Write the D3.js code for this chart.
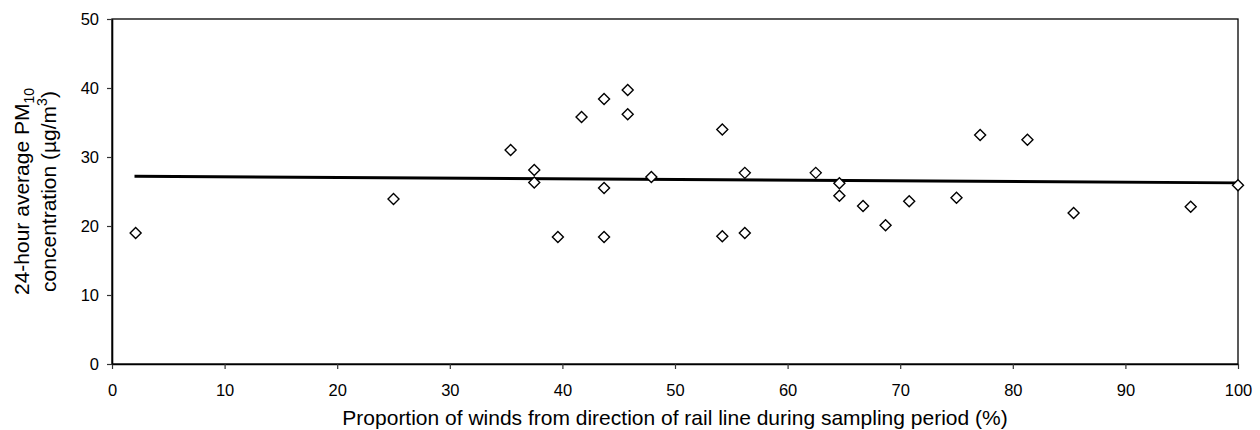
<!DOCTYPE html>
<html>
<head>
<meta charset="utf-8">
<script src="https://cdn.jsdelivr.net/npm/d3@7"></script>
<style>
  body { margin: 0; background: #fff; }
  svg { display: block; font-family: "Liberation Sans", Arial, sans-serif; }
</style>
</head>
<body>
<script>
// sampled wind proportion (%) and measured PM10 (ug/m3)
const windPct = [2.1, 25.0, 35.4, 37.5, 37.5, 39.6, 41.7, 43.7, 43.7, 43.7, 45.8, 45.8, 47.9,
  54.2, 54.2, 56.2, 56.2, 62.5, 64.6, 64.6, 66.7, 68.7, 70.8, 75.0, 77.1, 81.3, 85.4, 95.8, 100];
const pm10 = [19.0, 23.9, 31.0, 28.1, 26.3, 18.4, 35.8, 38.4, 25.5, 18.4, 39.7, 36.2, 27.1,
  34.0, 18.5, 27.7, 19.0, 27.7, 26.2, 24.4, 22.9, 20.1, 23.6, 24.1, 33.2, 32.5, 21.9, 22.8, 25.9];

// linear trend line end points
const trendX = [2.0, 100];
const trendY = [27.2, 26.25];

const xTicks = [0, 10, 20, 30, 40, 50, 60, 70, 80, 90, 100];
const yTicks = [0, 10, 20, 30, 40, 50];

let W = 1260, H = 430;
let margin = { top: 19, right: 22, bottom: 66, left: 112 },
  width = W - margin.left - margin.right,
  height = H - margin.top - margin.bottom;

let svg = d3.select("body").append("svg")
  .attr("width", W)
  .attr("height", H);

let g = svg.append("g")
  .attr("transform", "translate(" + margin.left + "," + margin.top + ")");

let x = d3.scaleLinear().domain([0, 100]).range([0, width]);
let y = d3.scaleLinear().domain([0, 50]).range([height, 0]);

// plot frame
g.append("rect")
  .attr("width", width)
  .attr("height", height)
  .attr("fill", "none")
  .attr("stroke", "#000")
  .attr("stroke-width", 1.3);

let xAxis = g.append("g")
  .attr("transform", "translate(0," + height + ")")
  .call(d3.axisBottom(x).tickValues(xTicks).tickSize(5).tickPadding(15).tickSizeOuter(0));
let yAxis = g.append("g")
  .call(d3.axisLeft(y).tickValues(yTicks).tickSize(5).tickPadding(8).tickSizeOuter(0));

[xAxis, yAxis].forEach(a => {
  a.select(".domain").attr("stroke", "#000").attr("stroke-width", 1.6);
  a.selectAll(".tick line").attr("stroke", "#333").attr("stroke-width", 1.2);
  a.selectAll(".tick text")
    .attr("fill", "#000")
    .style("font-size", "16.5px")
    .style("font-family", "Liberation Sans, Arial, sans-serif");
});

// trend line
let line = d3.line()
  .x(d => x(d[0]))
  .y(d => y(d[1]));
g.append("path")
  .datum(trendX.map((v, i) => [v, trendY[i]]))
  .attr("d", line)
  .attr("fill", "none")
  .attr("stroke", "#000")
  .attr("stroke-width", 3);

// diamond markers
let r = 5.5;
g.selectAll(".pt")
  .data(windPct.map((v, i) => [v, pm10[i]]))
  .enter().append("path")
  .attr("class", "pt")
  .attr("transform", d => "translate(" + x(d[0]) + "," + y(d[1]) + ")")
  .attr("d", "M0," + (-r) + "L" + r + ",0L0," + r + "L" + (-r) + ",0Z")
  .attr("fill", "#fff")
  .attr("stroke", "#000")
  .attr("stroke-width", 1.4);

// axis titles
svg.append("text")
  .attr("x", margin.left + width / 2)
  .attr("y", 425)
  .attr("text-anchor", "middle")
  .style("font-size", "21px")
  .text("Proportion of winds from direction of rail line during sampling period (%)");

let cy = margin.top + height / 2;
let t1 = svg.append("text")
  .attr("transform", "translate(29," + cy + ") rotate(-90)")
  .attr("text-anchor", "middle")
  .style("font-size", "21px");
t1.append("tspan").text("24-hour average PM");
t1.append("tspan").attr("dy", 5).style("font-size", "14px").text("10");

let t2 = svg.append("text")
  .attr("transform", "translate(56," + cy + ") rotate(-90)")
  .attr("text-anchor", "middle")
  .style("font-size", "21px");
t2.append("tspan").text("concentration (µg/m");
t2.append("tspan").attr("dy", -9).style("font-size", "14px").text("3");
t2.append("tspan").attr("dy", 9).text(")");
</script>
</body>
</html>
